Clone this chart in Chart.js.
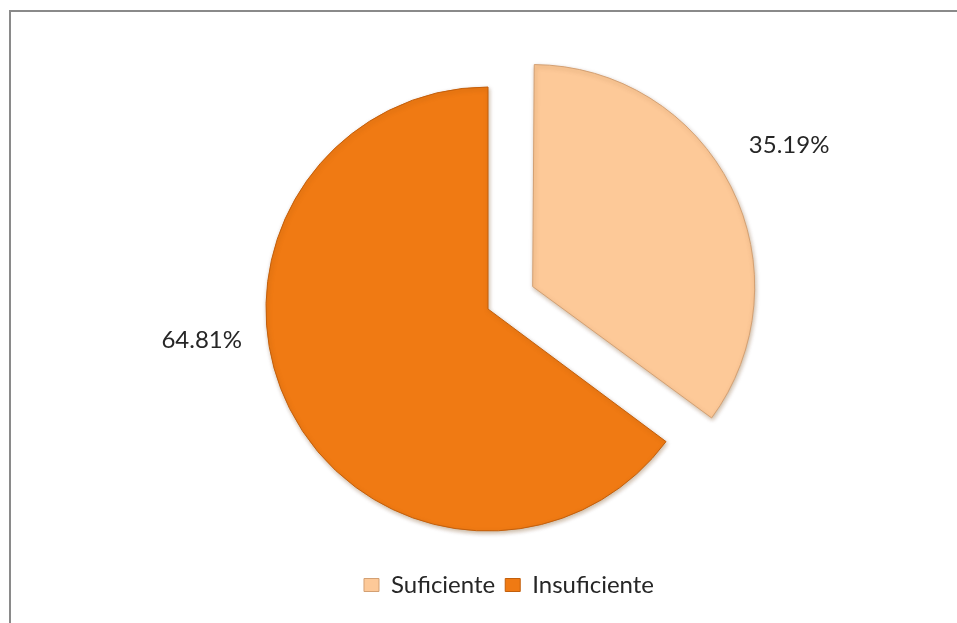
<!DOCTYPE html>
<html>
<head>
<meta charset="utf-8">
<script src="https://cdn.jsdelivr.net/npm/chart.js@4.4.1/dist/chart.umd.min.js"></script>
<style>
  html, body { margin: 0; padding: 0; background: #fff; }
  #wrap { position: relative; width: 957px; height: 623px; overflow: hidden; }
  #frame { position: absolute; left: 9px; top: 10px; right: -10px; bottom: -10px; border: 2px solid #8a8a8a; pointer-events: none; }
  canvas { position: absolute; left: 0; top: 0; }
</style>
</head>
<body>
<div id="wrap">
  <canvas id="chart" width="957" height="623"></canvas>
  <div id="frame"></div>
</div>
<script>
var categories = ['Suficiente', 'Insuficiente'];
var shares = [35.19, 64.81];
var sliceColors = ['#fdc998', '#f07a13'];
var edgeColors = ['#d3a073', '#c25f0c'];
var sliceOffsets = [200, 0];

// percentage text next to each slice: [angle from 12 o'clock in degrees, distance from centre]
var labelPlace = [[61.4, 343], [263.8, 288]];

// an offset arc gets drawn a bit bigger than the rest; pull it back to the pie radius
var keepRadius = {
  id: 'keepRadius',
  afterDatasetUpdate: function (chart, args) {
    args.meta.data.forEach(function (arc) {
      var off = (arc.options.offset || 0) / 4;
      var fix = 1 - Math.sin(Math.min(Math.PI, arc.circumference || 0));
      arc.outerRadius -= off * fix;
    });
  }
};

var sliceShadow = {
  id: 'sliceShadow',
  beforeDatasetDraw: function (chart) {
    var ctx = chart.ctx;
    ctx.save();
    ctx.shadowColor = 'rgba(110,60,10,0.35)';
    ctx.shadowBlur = 4;
    ctx.shadowOffsetX = 1;
    ctx.shadowOffsetY = 2;
  },
  afterDatasetDraw: function (chart) {
    chart.ctx.restore();
  }
};

var pctLabels = {
  id: 'pctLabels',
  afterDatasetsDraw: function (chart) {
    var ctx = chart.ctx;
    var meta = chart.getDatasetMeta(0);
    ctx.save();
    ctx.font = '24px Lato';
    ctx.fillStyle = '#262626';
    ctx.textAlign = 'center';
    ctx.textBaseline = 'middle';
    meta.data.forEach(function (arc, i) {
      var p = labelPlace[i];
      var a = (p[0] - 90) * Math.PI / 180;
      ctx.fillText(shares[i].toFixed(2) + '%', arc.x + Math.cos(a) * p[1], arc.y + Math.sin(a) * p[1]);
    });
    ctx.restore();
  }
};

// nudge the legend to the right of the pie's centre line
var legendShift = {
  id: 'legendShift',
  afterLayout: function (chart) {
    chart.legend.left += 21;
    chart.legend.right += 21;
  }
};

new Chart(document.getElementById('chart'), {
  type: 'pie',
  data: {
    labels: categories,
    datasets: [{
      data: shares,
      backgroundColor: sliceColors,
      borderColor: edgeColors,
      borderWidth: 1,
      offset: sliceOffsets
    }]
  },
  options: {
    responsive: false,
    animation: false,
    radius: 222,
    layout: { padding: { left: 19, right: 0, top: 55, bottom: 16 } },
    plugins: {
      legend: {
        position: 'bottom',
        labels: {
          boxWidth: 15,
          boxHeight: 13,
          padding: 10,
          color: '#262626',
          font: { family: 'Lato', size: 24 }
        }
      },
      tooltip: { enabled: false }
    }
  },
  plugins: [keepRadius, sliceShadow, pctLabels, legendShift]
});
</script>
</body>
</html>
